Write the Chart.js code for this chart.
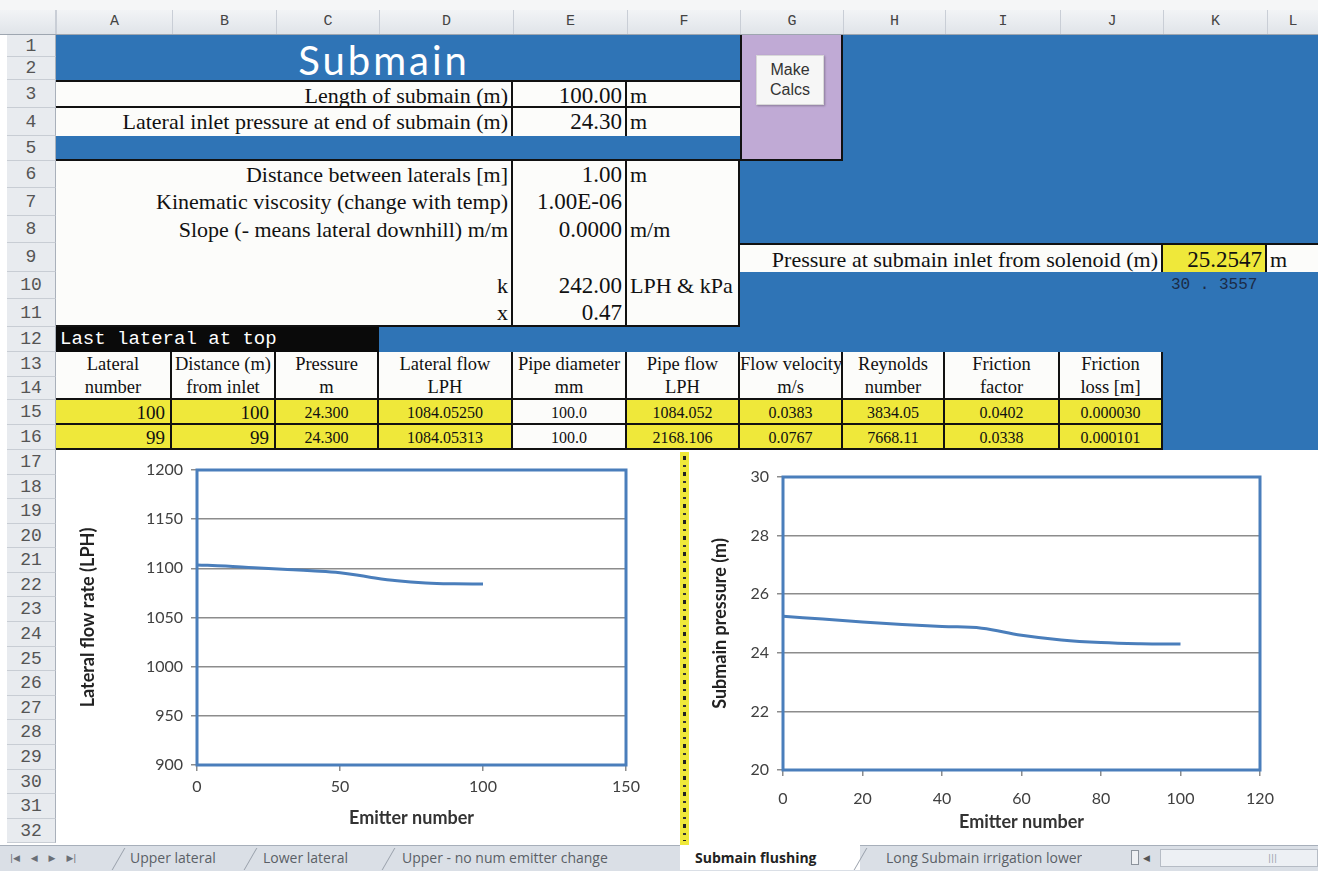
<!DOCTYPE html>
<html>
<head>
<meta charset="utf-8">
<script src="https://cdn.jsdelivr.net/npm/chart.js@4.4.1/dist/chart.umd.min.js"></script>
<style>
body{margin:0;width:1318px;height:887px;overflow:hidden;background:#fff;position:relative;font-family:"Liberation Serif",serif;color:#111;}
.c{position:absolute;box-sizing:border-box;white-space:nowrap;overflow:hidden;}
.lbl{font-size:22px;text-align:right;padding-right:3px;}
.num{font-size:23px;text-align:right;padding-right:3px;}
.unit{font-size:22px;text-align:left;padding-left:3px;}
.hd{font-size:18.5px;text-align:center;padding-top:1px;}
.tv{font-size:16px;text-align:center;}
.box{position:absolute;}
</style>
</head>
<body>
<div id="sheet"></div>
<div class="box" style="left:57px;top:452px;width:622px;height:393px;background:#fff"><canvas id="flowChart"></canvas></div>
<div class="box" style="left:690px;top:455px;width:628px;height:390px;background:#fff"><canvas id="pressureChart"></canvas></div>
<div id="tabs"></div>
<script>
// values
const emitterNumbers = [0, 10, 20, 30, 40, 50, 60, 70, 80, 90, 100];
const lateralFlow = [1103.5, 1102.3, 1100.6, 1099.1, 1097.6, 1095.6, 1091.2, 1087.4, 1085.2, 1084.3, 1084.05];
const submainPressure = [25.25, 25.15, 25.05, 24.97, 24.9, 24.84, 24.6, 24.44, 24.35, 24.31, 24.3];
const flowXAxis = [0, 150, 50];
const flowYAxis = [900, 1200, 50];
const pressureXAxis = [0, 120, 20];
const pressureYAxis = [20, 30, 2];

// sheet grid
const X = [56,172,276,379,513,627,740,843,945,1060,1163,1267,1318];
const Y = [35,57,80,108,136,161,188,216,243,272,299,327,352,377,400,425,450,475,499,524,548,573,597,622,647,671,696,720,745,770,794,819,843];
const sheet = document.getElementById('sheet');
function cell(c1, c2, r1, r2, cls, css, html){
  const d = document.createElement('div');
  d.className = 'c ' + (cls || '');
  const h = Y[r2] - Y[r1-1];
  d.style.cssText = 'left:'+X[c1]+'px;width:'+(X[c2+1]-X[c1])+'px;top:'+Y[r1-1]+'px;height:'+h+'px;line-height:'+h+'px;' + (css || '');
  d.innerHTML = html || '';
  sheet.appendChild(d);
  return d;
}
function raw(css, html){
  const d = document.createElement('div');
  d.className = 'c';
  d.style.cssText = css;
  d.innerHTML = html || '';
  sheet.appendChild(d);
  return d;
}
const BLUE = '#2F74B6', YEL = '#EFE83A', WH = '#FCFCFA', BK = '2px solid #111';

// top strip, column headers, row headers
raw('left:0;top:0;width:1318px;height:10px;background:#F5F6F7;');
raw('left:0;top:10px;width:1318px;height:25px;background:linear-gradient(#F2F4F6,#E0E4E9);border-bottom:1px solid #9EA6B0;');
const letters = ['A','B','C','D','E','F','G','H','I','J','K','L'];
letters.forEach((l, i) => {
  const x2 = i+1 < X.length ? X[i+1] : 1330;
  raw('left:'+X[i]+'px;top:10px;width:'+(x2-X[i])+'px;height:24px;line-height:24px;text-align:center;font-family:"Liberation Mono",monospace;font-size:15px;color:#444;border-left:1px solid #C9CED6;', l);
});
raw('left:0;top:10px;width:56px;height:24px;border-right:1px solid #C9CED6;');
raw('left:0;top:35px;width:7px;height:810px;background:#fff;');
for (let r = 1; r <= 32; r++) {
  raw('left:7px;top:'+Y[r-1]+'px;width:49px;height:'+(Y[r]-Y[r-1])+'px;line-height:'+(Y[r]-Y[r-1])+'px;background:#E8EBEF;border-bottom:1px solid #C8CDD4;border-right:1px solid #A9B0BA;text-align:center;font-family:"Liberation Mono",monospace;font-size:18px;color:#555;', String(r));
}

// blue base for rows 1-16
raw('left:56px;top:35px;width:1262px;height:415px;background:'+BLUE+';');
// title
cell(0, 5, 1, 2, '', 'background:'+BLUE+';color:#fff;font-family:Lato,sans-serif;font-size:40px;letter-spacing:3px;text-align:center;line-height:50px;padding-right:28px;', 'Submain');
// Make Calcs box
cell(6, 6, 1, 5, '', 'background:#C0AAD5;border:'+BK+';border-top:none;');
raw('left:756px;top:55px;width:68px;height:50px;background:#F6F6F6;border:1px solid #D8D8D8;box-shadow:1px 1px 2px #8A7A99;text-align:center;font-family:"Liberation Sans",sans-serif;font-size:16px;line-height:20px;color:#333;padding-top:4px;', 'Make<br>Calcs');
// rows 3-4
cell(0, 3, 3, 3, 'lbl', 'background:'+WH+';border-top:'+BK+';border-bottom:'+BK+';border-right:'+BK+';', 'Length of submain (m)');
cell(4, 4, 3, 3, 'num', 'background:'+WH+';border-top:'+BK+';border-bottom:'+BK+';border-right:'+BK+';', '100.00');
cell(5, 5, 3, 3, 'unit', 'background:'+WH+';border-top:'+BK+';border-bottom:'+BK+';', 'm');
cell(0, 3, 4, 4, 'lbl', 'background:'+WH+';border-right:'+BK+';', 'Lateral inlet pressure at end of submain (m)');
cell(4, 4, 4, 4, 'num', 'background:'+WH+';border-right:'+BK+';', '24.30');
cell(5, 5, 4, 4, 'unit', 'background:'+WH+';', 'm');
cell(0, 5, 5, 5, '', 'background:'+BLUE+';border-bottom:'+BK+';');
// rows 6-11 parameters
const paramLabels = ['Distance between laterals [m]','Kinematic viscosity (change with temp)','Slope (- means lateral downhill) m/m','','k','x'];
const paramValues = ['1.00','1.00E-06','0.0000','','242.00','0.47'];
const paramUnits = ['m','','m/m','','LPH &amp; kPa',''];
for (let i = 0; i < 6; i++) {
  const r = 6 + i, last = i === 5 ? 'border-bottom:'+BK+';' : '';
  cell(0, 3, r, r, 'lbl', 'background:'+WH+';border-right:'+BK+';'+last, paramLabels[i]);
  cell(4, 4, r, r, 'num', 'background:'+WH+';border-right:'+BK+';'+last, paramValues[i]);
  cell(5, 5, r, r, 'unit', 'background:'+WH+';border-right:'+BK+';'+last, paramUnits[i]);
}
// row 9 inlet pressure
cell(6, 9, 9, 9, 'lbl', 'background:'+WH+';border-top:'+BK+';border-right:'+BK+';', 'Pressure at submain inlet from solenoid (m)');
cell(10, 10, 9, 9, 'num', 'background:'+YEL+';border-top:'+BK+';border-right:'+BK+';', '25.2547');
cell(11, 11, 9, 9, 'unit', 'background:'+WH+';border-top:'+BK+';', 'm');
cell(10, 10, 10, 10, '', 'font-family:"Liberation Mono",monospace;font-size:16px;color:#1B2B47;padding-left:8px;', '30 . 3557');
// row 12
cell(0, 2, 12, 12, '', 'background:#0A0A0A;color:#fff;font-family:"Liberation Mono",monospace;font-size:19px;padding-left:4px;', 'Last lateral at top');
// table header rows 13-14
const headTop = ['Lateral','Distance (m)','Pressure','Lateral flow','Pipe diameter','Pipe flow','Flow velocity','Reynolds','Friction','Friction'];
const headBottom = ['number','from inlet','m','LPH','mm','LPH','m/s','number','factor','loss [m]'];
const row15 = ['100','100','24.300','1084.05250','100.0','1084.052','0.0383','3834.05','0.0402','0.000030'];
const row16 = ['99','99','24.300','1084.05313','100.0','2168.106','0.0767','7668.11','0.0338','0.000101'];
for (let c = 0; c < 10; c++) {
  cell(c, c, 13, 14, 'hd', 'background:'+WH+';border-right:'+BK+';border-bottom:'+BK+';line-height:23px;', headTop[c] + '<br>' + headBottom[c]);
  [row15, row16].forEach((row, k) => {
    const bg = c === 4 ? WH : YEL;
    const big = c < 2 ? 'font-size:19px;text-align:right;padding-right:5px;' : '';
    cell(c, c, 15 + k, 15 + k, 'tv', 'background:'+bg+';border-right:'+BK+';border-bottom:'+BK+';'+big, row[c]);
  });
}
// chart region rows 17-32
raw('left:56px;top:450px;width:1262px;height:395px;background:#fff;');
raw('left:680px;top:452px;width:9px;height:393px;background:'+YEL+';');
raw('left:683px;top:456px;width:3px;height:385px;background:repeating-linear-gradient(#222 0 4px,'+YEL+' 4px 9px,#333 9px 11px,'+YEL+' 11px 16px);');

// sheet tabs
const tabs = document.getElementById('tabs');
function tb(css, html){ const d = document.createElement('div'); d.className = 'c'; d.style.cssText = css; d.innerHTML = html || ''; tabs.appendChild(d); }
tb('left:0;top:845px;width:1318px;height:26px;background:#DADFE6;border-top:1px solid #A7AFBA;');
tb('left:10px;top:849px;width:90px;height:18px;line-height:18px;font-family:"DejaVu Sans",sans-serif;font-size:9px;color:#6A6F77;word-spacing:8px;', '|◀ ◀ ▶ ▶|');
const tabNames = ['Upper lateral','Lower lateral','Upper - no num emitter change','Submain flushing','Long Submain irrigation lower'];
const tabLeft = [130, 263, 402, 695, 886];
tb('left:680px;top:845px;width:180px;height:25px;background:#fff;');
tabNames.forEach((t, i) => {
  const active = i === 3;
  tb('left:'+tabLeft[i]+'px;top:847px;height:22px;line-height:22px;font-family:"Open Sans",sans-serif;font-size:14px;color:'+(active?'#222':'#5A5F66')+';font-weight:'+(active?'bold':'normal')+';', t);
});
[118, 250, 388, 860].forEach(x => tb('left:'+x+'px;top:848px;width:1px;height:22px;background:#98A0AA;transform:skewX(-30deg);'));
tb('left:1131px;top:850px;width:8px;height:15px;border:1px solid #8C939C;background:#EEF0F3;');
tb('left:1143px;top:849px;width:14px;height:18px;line-height:18px;font-family:"DejaVu Sans",sans-serif;font-size:9px;color:#555;', '◀');
tb('left:1160px;top:849px;width:158px;height:18px;background:#EDF0F4;border:1px solid #B6BCC5;');
tb('left:1268px;top:849px;width:20px;height:18px;line-height:18px;font-family:"DejaVu Sans",sans-serif;font-size:9px;color:#9AA1AA;', '|||');

// charts
const frame = {
  id: 'frame',
  afterDatasetsDraw(chart) {
    const a = chart.chartArea, ctx = chart.ctx;
    ctx.save();
    ctx.strokeStyle = '#4A7EBB';
    ctx.lineWidth = 3;
    ctx.strokeRect(a.left, a.top, a.right - a.left, a.bottom - a.top);
    ctx.restore();
  }
};
function makeChart(id, xs, ys, xr, yr, yTitle, o) {
  return new Chart(document.getElementById(id).getContext('2d'), {
    type: 'line',
    data: {
      datasets: [{
        data: xs.map((x, i) => ({x: x, y: ys[i]})),
        borderColor: '#4A7EBB',
        borderWidth: 3,
        pointRadius: 0,
        tension: 0.4,
        fill: false
      }]
    },
    options: {
      responsive: true,
      maintainAspectRatio: false,
      animation: false,
      layout: {padding: o.pad},
      plugins: {legend: {display: false}, tooltip: {enabled: false}},
      scales: {
        x: {
          type: 'linear', min: xr[0], max: xr[1],
          ticks: {stepSize: xr[2], color: '#404040', font: {family: 'Lato', size: 16}, padding: o.xTickPad, maxRotation: 0, callback: v => String(v)},
          grid: {drawOnChartArea: false, color: '#8C8C8C', lineWidth: 1.5, tickLength: 6},
          border: {display: false},
          title: {display: true, text: 'Emitter number', color: '#333', font: {family: 'Lato', size: 18, weight: 'bold'}, padding: {top: 0, bottom: o.xTitlePad}},
          afterFit(s) { s.height = o.xHeight; }
        },
        y: {
          min: yr[0], max: yr[1],
          ticks: {stepSize: yr[2], color: '#404040', font: {family: 'Lato', size: 16}, padding: 8, callback: v => String(v)},
          grid: {color: '#8C8C8C', lineWidth: 1.5, tickLength: 6},
          border: {display: false},
          title: {display: true, text: yTitle, color: '#222', font: {family: 'Lato', size: 18, weight: 'bold'}, padding: {top: o.yTitlePad, bottom: 0}},
          afterFit(s) { s.width = o.yWidth; }
        }
      }
    },
    plugins: [frame]
  });
}
makeChart('flowChart', emitterNumbers, lateralFlow, flowXAxis, flowYAxis, 'Lateral flow rate (LPH)',
  {yWidth: 140, xHeight: 80, pad: {top: 18, right: 53, left: 0, bottom: 0}, xTickPad: 6, xTitlePad: 16, yTitlePad: 20});
makeChart('pressureChart', emitterNumbers, submainPressure, pressureXAxis, pressureYAxis, 'Submain pressure (m)',
  {yWidth: 93, xHeight: 75, pad: {top: 22, right: 58, left: 0, bottom: 0}, xTickPad: 13, xTitlePad: 12, yTitlePad: 19});
</script>
</body>
</html>
